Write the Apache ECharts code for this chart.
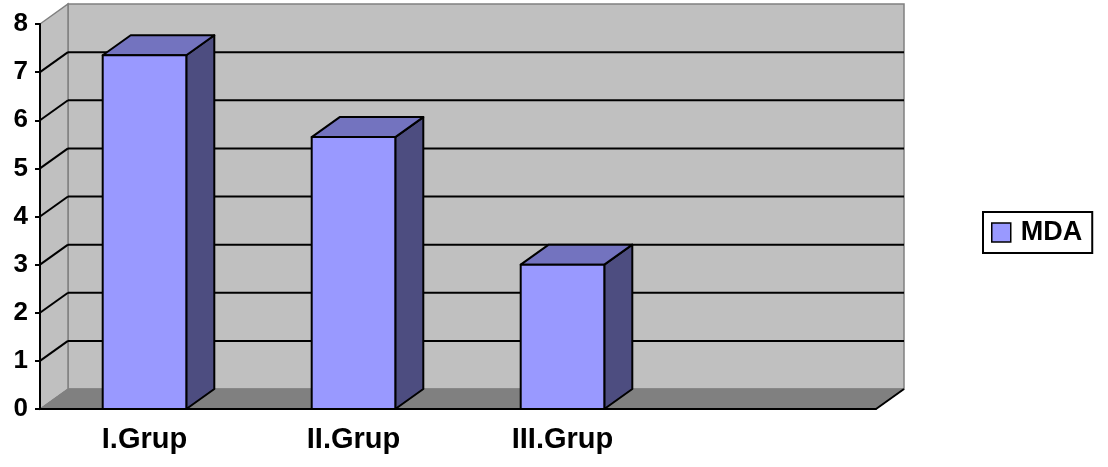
<!DOCTYPE html>
<html>
<head>
<meta charset="utf-8">
<script src="https://cdn.jsdelivr.net/npm/echarts@6/dist/echarts.min.js"></script>
<style>
  html, body { margin: 0; padding: 0; background: #fff; }
  #chart { width: 1108px; height: 467px; }
</style>
</head>
<body>
<div id="chart"></div>
<script>
var categories = ['I.Grup', 'II.Grup', 'III.Grup', ''];
var mdaValues = [7.35, 5.65, 3.0];
var gridValues = [1, 2, 3, 4, 5, 6, 7];
var seriesName = 'MDA';

(function() {
  var DX = 28, DY = -20;   // depth offset of the 3D box
  var font = '"Liberation Sans", Arial, sans-serif';
  var chart = echarts.init(document.getElementById('chart'), null, { renderer: 'canvas' });

  // walls + floor
  function renderWalls(params, api) {
    var cs = params.coordSys;
    var x = cs.x, y = cs.y, w = cs.width, h = cs.height;
    return {
      type: 'group',
      children: [
        { type: 'polygon', shape: { points: [[x + DX, y + DY], [x + w + DX, y + DY], [x + w + DX, y + h + DY], [x + DX, y + h + DY]] },
          style: { fill: '#c0c0c0', stroke: '#808080', lineWidth: 1.5 } },
        { type: 'polygon', shape: { points: [[x, y], [x + DX, y + DY], [x + DX, y + h + DY], [x, y + h]] },
          style: { fill: '#c0c0c0', stroke: '#808080', lineWidth: 1.5 } },
        { type: 'polygon', shape: { points: [[x, y + h], [x + DX, y + h + DY], [x + w + DX, y + h + DY], [x + w, y + h]] },
          style: { fill: '#808080', stroke: '#808080', lineWidth: 1 } },
        { type: 'line', shape: { x1: x + w, y1: y + h, x2: x + w + DX, y2: y + h + DY },
          style: { stroke: '#000', lineWidth: 2 } }
      ]
    };
  }

  // gridlines on back + left wall
  function renderGrid(params, api) {
    var cs = params.coordSys;
    var p = api.coord([0, api.value(0)]);
    var yv = p[1];
    return {
      type: 'group',
      children: [
        { type: 'line', shape: { x1: cs.x, y1: yv, x2: cs.x + DX, y2: yv + DY }, style: { stroke: '#000', lineWidth: 2 } },
        { type: 'line', shape: { x1: cs.x + DX, y1: yv + DY, x2: cs.x + cs.width + DX, y2: yv + DY }, style: { stroke: '#000', lineWidth: 2 } }
      ]
    };
  }

  function renderBar(params, api) {
    var top = api.coord([api.value(0), api.value(1)]);
    var base = api.coord([api.value(0), 0]);
    var bw = api.size([1, 0])[0] * 0.4;
    var x0 = top[0] - bw / 2, x1 = top[0] + bw / 2, yt = top[1], yb = base[1];
    var edge = { stroke: '#000', lineWidth: 2, lineJoin: 'round' };
    return {
      type: 'group',
      children: [
        { type: 'polygon', shape: { points: [[x1, yt], [x1 + DX, yt + DY], [x1 + DX, yb + DY], [x1, yb]] },
          style: Object.assign({ fill: '#4d4d80' }, edge) },
        { type: 'polygon', shape: { points: [[x0, yt], [x0 + DX, yt + DY], [x1 + DX, yt + DY], [x1, yt]] },
          style: Object.assign({ fill: '#7373bf' }, edge) },
        { type: 'rect', shape: { x: x0, y: yt, width: bw, height: yb - yt },
          style: Object.assign({ fill: '#9999ff' }, edge) }
      ]
    };
  }

  chart.setOption({
    animation: false,
    backgroundColor: '#ffffff',
    grid: { left: 40, right: 232, top: 24, bottom: 58 },
    legend: {
      data: [seriesName],
      left: 983, top: 212,
      orient: 'vertical',
      padding: [7, 10, 7, 8],
      borderColor: '#000', borderWidth: 2,
      icon: 'rect', itemWidth: 19, itemHeight: 19, itemGap: 6,
      itemStyle: { color: '#9999ff', borderColor: '#000', borderWidth: 1.5 },
      textStyle: { fontFamily: font, fontWeight: 'bold', fontSize: 27, color: '#000', padding: [0, 0, 0, 5] }
    },
    xAxis: {
      type: 'category',
      data: categories,
      z: 10,
      axisLine: { lineStyle: { color: '#000', width: 2 } },
      axisTick: { alignWithLabel: false, length: 7, lineStyle: { color: '#000', width: 2 } },
      axisLabel: { fontFamily: font, fontWeight: 'bold', fontSize: 29, color: '#000', margin: 16 },
      splitLine: { show: false }
    },
    yAxis: {
      type: 'value',
      min: 0, max: 8, interval: 1,
      z: 10,
      axisLine: { show: true, lineStyle: { color: '#000', width: 2 } },
      axisTick: { show: true, length: 5, lineStyle: { color: '#000', width: 2 } },
      axisLabel: { fontFamily: font, fontWeight: 'bold', fontSize: 26, color: '#000', margin: 12 },
      splitLine: { show: false }
    },
    series: [
      { type: 'custom', name: 'walls', data: [[0, 0]], renderItem: renderWalls, silent: true, z: 1, clip: false },
      { type: 'custom', name: 'grid', data: gridValues.map(function(v) { return [v]; }), renderItem: renderGrid,
        encode: { y: 0 }, silent: true, z: 2, clip: false },
      { type: 'custom', name: seriesName, data: mdaValues.map(function(v, i) { return [i, v]; }), renderItem: renderBar,
        encode: { x: 0, y: 1 }, itemStyle: { color: '#9999ff' }, z: 3, clip: false }
    ]
  });

  window.addEventListener('resize', function() { chart.resize(); });
})();
</script>
</body>
</html>
